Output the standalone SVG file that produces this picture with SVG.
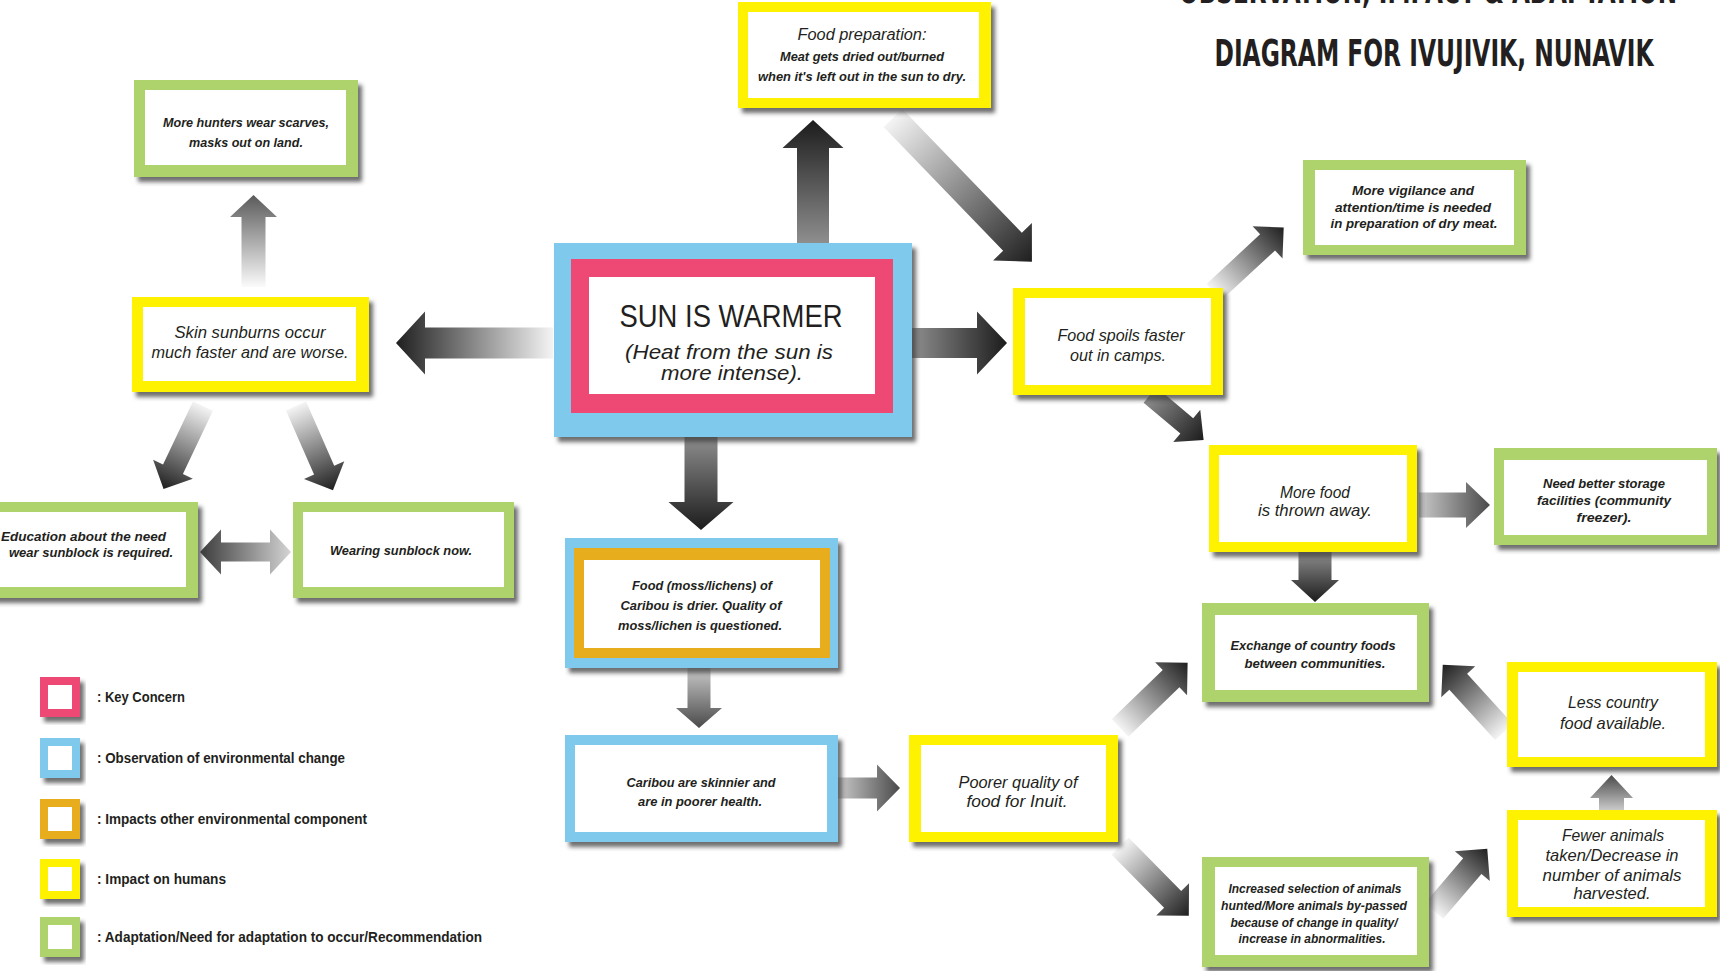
<svg xmlns="http://www.w3.org/2000/svg" width="1720" height="971" viewBox="0 0 1720 971">
  <defs>
    <style>
      .t { font-family: "Liberation Sans Narrow", "Liberation Sans", Arial, sans-serif; fill: #231f20; text-anchor: middle; font-style: italic; }
      .s { font-size: 13px; font-weight: bold; }
      .m { font-size: 17px; }
      .xs { font-size: 12px; font-weight: bold; }
      .lg { font-family: "Liberation Sans Narrow", "Liberation Sans", Arial, sans-serif; font-size: 14px; font-weight: bold; fill: #231f20; }
      .ttl { font-family: "Liberation Sans Narrow", "DejaVu Sans Condensed", "Liberation Sans", sans-serif; font-size: 38px; font-weight: bold; fill: #231f20; }
      .yel { fill: #fff200; }
      .grn { fill: #aed36c; }
      .blu { fill: #7fcaec; }
      .pnk { fill: #ee4875; }
      .org { fill: #e8ad1c; }
      .wht { fill: #ffffff; }
      .box { filter: url(#shadow); }
    </style>
    <filter id="shadow" x="-10%" y="-10%" width="125%" height="130%">
      <feDropShadow dx="4" dy="5" stdDeviation="2.2" flood-color="#3c3c3c" flood-opacity="0.75"/>
    </filter>
    <linearGradient id="gFade" x1="0" y1="0" x2="1" y2="0">
      <stop offset="0" stop-color="#f4f4f4"/>
      <stop offset="1" stop-color="#1f1f1f"/>
    </linearGradient>
    <linearGradient id="gStrong" x1="0" y1="0" x2="1" y2="0">
      <stop offset="0" stop-color="#8e8e8e"/>
      <stop offset="1" stop-color="#1c1c1c"/>
    </linearGradient>
    <linearGradient id="gMid" x1="0" y1="0" x2="1" y2="0">
      <stop offset="0" stop-color="#c9c9c9"/>
      <stop offset="1" stop-color="#4a4a4a"/>
    </linearGradient>
    <linearGradient id="gLight" x1="0" y1="0" x2="1" y2="0">
      <stop offset="0" stop-color="#fbfbfb"/>
      <stop offset="1" stop-color="#5a5a5a"/>
    </linearGradient>
    <linearGradient id="gDouble" x1="0" y1="0" x2="1" y2="0">
      <stop offset="0" stop-color="#3c3c3c"/>
      <stop offset="1" stop-color="#d4d4d4"/>
    </linearGradient>
  </defs>

  <rect width="1720" height="971" fill="#ffffff"/>

  <!-- title (first line runs off the top edge) -->
  <g id="title">
    <text class="ttl" x="1428" y="3" text-anchor="middle" textLength="498" lengthAdjust="spacingAndGlyphs">OBSERVATION, IMPACT &amp; ADAPTATION</text>
    <text class="ttl" x="1434" y="66" text-anchor="middle" textLength="439" lengthAdjust="spacingAndGlyphs">DIAGRAM FOR IVUJIVIK, NUNAVIK</text>
  </g>

  <!-- connectors: block arrows drawn along +x, then placed -->
  <g id="connectors">
    <path fill="url(#gFade)" transform="translate(553,343) rotate(180)" d="M0,-15.5H128V-31.5L157,0L128,31.5V15.5H0Z"/>
    <path fill="url(#gStrong)" transform="translate(813,243) rotate(-90)" d="M0,-16H95V-30.5L123,0L95,30.5V16H0Z"/>
    <path fill="url(#gFade)" transform="translate(893,118) rotate(46)" d="M0,-13H172V-27L200,0L172,27V13H0Z"/>
    <path fill="url(#gStrong)" transform="translate(912,343)" d="M0,-15H65V-31.5L95,0L65,31.5V15H0Z"/>
    <path fill="url(#gStrong)" transform="translate(701,437) rotate(90)" d="M0,-16.5H65V-32.5L93,0L65,32.5V16.5H0Z"/>
    <path fill="url(#gMid)" transform="translate(699,668) rotate(90)" d="M0,-11.5H40V-23L60,0L40,23V11.5H0Z"/>
    <path fill="url(#gMid)" transform="translate(838,788)" d="M0,-10.5H39V-23.5L62,0L39,23.5V10.5H0Z"/>
    <path fill="url(#gLight)" transform="translate(253.5,287) rotate(-90)" d="M0,-12H70V-23.5L92,0L70,23.5V12H0Z"/>
    <path fill="url(#gFade)" transform="translate(203,406) rotate(115.4)" d="M0,-11H70V-22L92,0L70,22V11H0Z"/>
    <path fill="url(#gFade)" transform="translate(296,406) rotate(66.3)" d="M0,-11H70V-22L92,0L70,22V11H0Z"/>
    <path fill="url(#gDouble)" d="M200,552L221,529.5V542.5H270V529.5L291,552L270,574.5V561.5H221V574.5Z"/>
    <path fill="url(#gFade)" transform="translate(1214,292) rotate(-42.8)" d="M0,-11H73V-22L95,0L73,22V11H0Z"/>
    <path fill="url(#gStrong)" transform="translate(1150,395) rotate(40)" d="M0,-10H48V-21L70,0L48,21V10H0Z"/>
    <path fill="url(#gMid)" transform="translate(1419,505)" d="M0,-12.5H47V-23L71,0L47,23V12.5H0Z"/>
    <path fill="url(#gStrong)" transform="translate(1315,552) rotate(90)" d="M0,-16.5H28V-24L50,0L28,24V16.5H0Z"/>
    <path fill="url(#gFade)" transform="translate(1120,728) rotate(-44)" d="M0,-12H71V-23L94,0L71,23V12H0Z"/>
    <path fill="url(#gFade)" transform="translate(1120,846) rotate(45.4)" d="M0,-12H75V-23L98,0L75,23V12H0Z"/>
    <path fill="url(#gFade)" transform="translate(1434,911) rotate(-49.5)" d="M0,-12H59V-23L82,0L59,23V12H0Z"/>
    <path fill="url(#gMid)" transform="translate(1611.5,810) rotate(-90)" d="M0,-12.5H12V-21.5L35,0L12,21.5V12.5H0Z"/>
    <path fill="url(#gFade)" transform="translate(1504,732) rotate(-132.3)" d="M0,-12H68V-23L91,0L68,23V12H0Z"/>
  </g>

  <!-- key concern -->
  <g id="sun-warmer">
    <rect class="blu box" x="554" y="243" width="358" height="194"/>
    <rect class="pnk" x="571" y="259" width="322" height="154"/>
    <rect class="wht" x="589" y="277" width="286" height="117"/>
    <text x="731" y="327" textLength="223" lengthAdjust="spacingAndGlyphs" style="font-family:'Liberation Sans Narrow','Liberation Sans',Arial,sans-serif;font-size:31px;fill:#231f20;text-anchor:middle">SUN IS WARMER</text>
    <text class="t" x="729" y="359" textLength="208" lengthAdjust="spacingAndGlyphs" style="font-size:21px">(Heat from the sun is</text>
    <text class="t" x="732" y="380" textLength="142" lengthAdjust="spacingAndGlyphs" style="font-size:21px">more intense).</text>
  </g>

  <g id="more-hunters">
    <rect class="grn box" x="134" y="80" width="224" height="97"/>
    <rect class="wht" x="145" y="90" width="201" height="75"/>
    <text class="t s" x="246" y="126.5" textLength="166" lengthAdjust="spacingAndGlyphs">More hunters wear scarves,</text>
    <text class="t s" x="246" y="146.5" textLength="114" lengthAdjust="spacingAndGlyphs">masks out on land.</text>
  </g>

  <g id="skin-sunburns">
    <rect class="yel box" x="132" y="297" width="237" height="95"/>
    <rect class="wht" x="143" y="307" width="213" height="74"/>
    <text class="t m" x="250" y="338" textLength="151" lengthAdjust="spacingAndGlyphs">Skin sunburns occur</text>
    <text class="t m" x="250" y="358" textLength="197" lengthAdjust="spacingAndGlyphs">much faster and are worse.</text>
  </g>

  <g id="food-preparation">
    <rect class="yel box" x="738" y="2" width="253" height="106"/>
    <rect class="wht" x="748" y="12" width="231" height="86"/>
    <text class="t" x="862" y="40" textLength="129" lengthAdjust="spacingAndGlyphs" style="font-size:16px">Food preparation:</text>
    <text class="t s" x="862" y="60.5" textLength="164" lengthAdjust="spacingAndGlyphs">Meat gets dried out/burned</text>
    <text class="t s" x="862" y="80.5" textLength="208" lengthAdjust="spacingAndGlyphs">when it's left out in the sun to dry.</text>
  </g>

  <g id="food-spoils">
    <rect class="yel box" x="1013" y="288" width="210" height="107"/>
    <rect class="wht" x="1025" y="298" width="186" height="87"/>
    <text class="t m" x="1121" y="341" textLength="127" lengthAdjust="spacingAndGlyphs">Food spoils faster</text>
    <text class="t m" x="1118" y="361" textLength="96" lengthAdjust="spacingAndGlyphs">out in camps.</text>
  </g>

  <g id="more-vigilance">
    <rect class="grn box" x="1303" y="160" width="223" height="95"/>
    <rect class="wht" x="1315" y="170" width="199" height="75"/>
    <text class="t s" x="1413" y="195" textLength="122" lengthAdjust="spacingAndGlyphs">More vigilance and</text>
    <text class="t s" x="1413" y="212" textLength="156" lengthAdjust="spacingAndGlyphs">attention/time is needed</text>
    <text class="t s" x="1414" y="228" textLength="167" lengthAdjust="spacingAndGlyphs">in preparation of dry meat.</text>
  </g>

  <g id="more-food-thrown">
    <rect class="yel box" x="1209" y="445" width="208" height="107"/>
    <rect class="wht" x="1219" y="455" width="188" height="87"/>
    <text class="t m" x="1315" y="498" textLength="70" lengthAdjust="spacingAndGlyphs">More food</text>
    <text class="t m" x="1315" y="516" textLength="114" lengthAdjust="spacingAndGlyphs">is thrown away.</text>
  </g>

  <g id="better-storage">
    <rect class="grn box" x="1494" y="448" width="223" height="97"/>
    <rect class="wht" x="1504" y="460" width="203" height="75"/>
    <text class="t s" x="1604" y="488" textLength="122" lengthAdjust="spacingAndGlyphs">Need better storage</text>
    <text class="t s" x="1604" y="505" textLength="134" lengthAdjust="spacingAndGlyphs">facilities (community</text>
    <text class="t s" x="1604" y="522" textLength="55" lengthAdjust="spacingAndGlyphs">freezer).</text>
  </g>

  <g id="exchange-foods">
    <rect class="grn box" x="1202" y="603" width="227" height="99"/>
    <rect class="wht" x="1215" y="615" width="202" height="75"/>
    <text class="t s" x="1313" y="650" textLength="165" lengthAdjust="spacingAndGlyphs">Exchange of country foods</text>
    <text class="t s" x="1315" y="668" textLength="141" lengthAdjust="spacingAndGlyphs">between communities.</text>
  </g>

  <g id="less-country-food">
    <rect class="yel box" x="1507" y="662" width="210" height="105"/>
    <rect class="wht" x="1518" y="672" width="187" height="85"/>
    <text class="t m" x="1613" y="708" textLength="90" lengthAdjust="spacingAndGlyphs">Less country</text>
    <text class="t m" x="1613" y="729" textLength="106" lengthAdjust="spacingAndGlyphs">food available.</text>
  </g>

  <g id="fewer-animals">
    <rect class="yel box" x="1507" y="810" width="210" height="107"/>
    <rect class="wht" x="1518" y="820" width="187" height="87"/>
    <text class="t m" x="1613" y="841" textLength="102" lengthAdjust="spacingAndGlyphs">Fewer animals</text>
    <text class="t m" x="1612" y="861" textLength="133" lengthAdjust="spacingAndGlyphs">taken/Decrease in</text>
    <text class="t m" x="1612" y="881" textLength="139" lengthAdjust="spacingAndGlyphs">number of animals</text>
    <text class="t m" x="1612" y="899" textLength="77" lengthAdjust="spacingAndGlyphs">harvested.</text>
  </g>

  <g id="increased-selection">
    <rect class="grn box" x="1202" y="857" width="227" height="110"/>
    <rect class="wht" x="1215" y="867" width="202" height="88"/>
    <text class="t xs" x="1315" y="893" textLength="173" lengthAdjust="spacingAndGlyphs">Increased selection of animals</text>
    <text class="t xs" x="1314" y="910" textLength="186" lengthAdjust="spacingAndGlyphs">hunted/More animals by-passed</text>
    <text class="t xs" x="1314" y="927" textLength="167" lengthAdjust="spacingAndGlyphs">because of change in quality/</text>
    <text class="t xs" x="1312" y="943" textLength="147" lengthAdjust="spacingAndGlyphs">increase in abnormalities.</text>
  </g>

  <g id="poorer-quality">
    <rect class="yel box" x="909" y="735" width="209" height="107"/>
    <rect class="wht" x="921" y="745" width="185" height="87"/>
    <text class="t m" x="1018" y="788" textLength="119" lengthAdjust="spacingAndGlyphs">Poorer quality of</text>
    <text class="t m" x="1017" y="807" textLength="101" lengthAdjust="spacingAndGlyphs">food for Inuit.</text>
  </g>

  <g id="food-moss-lichens">
    <rect class="blu box" x="565" y="538" width="273" height="130"/>
    <rect class="org" x="574" y="548" width="256" height="110"/>
    <rect class="wht" x="584" y="560" width="236" height="88"/>
    <text class="t s" x="702" y="590" textLength="140" lengthAdjust="spacingAndGlyphs">Food (moss/lichens) of</text>
    <text class="t s" x="701" y="610" textLength="161" lengthAdjust="spacingAndGlyphs">Caribou is drier. Quality of</text>
    <text class="t s" x="700" y="630" textLength="164" lengthAdjust="spacingAndGlyphs">moss/lichen is questioned.</text>
  </g>

  <g id="caribou-skinnier">
    <rect class="blu box" x="565" y="735" width="273" height="107"/>
    <rect class="wht" x="575" y="745" width="252" height="87"/>
    <text class="t s" x="701" y="787" textLength="149" lengthAdjust="spacingAndGlyphs">Caribou are skinnier and</text>
    <text class="t s" x="700" y="806" textLength="124" lengthAdjust="spacingAndGlyphs">are in poorer health.</text>
  </g>

  <g id="education-sunblock">
    <rect class="grn box" x="-30" y="502" width="228" height="96"/>
    <rect class="wht" x="-19" y="512" width="205" height="75"/>
    <text class="t s" x="1" y="541" textLength="165" lengthAdjust="spacingAndGlyphs" style="text-anchor:start">Education about the need</text>
    <text class="t s" x="9" y="557" textLength="164" lengthAdjust="spacingAndGlyphs" style="text-anchor:start">wear sunblock is required.</text>
  </g>

  <g id="wearing-sunblock">
    <rect class="grn box" x="293" y="502" width="221" height="96"/>
    <rect class="wht" x="303" y="512" width="201" height="75"/>
    <text class="t s" x="401" y="555" textLength="142" lengthAdjust="spacingAndGlyphs">Wearing sunblock now.</text>
  </g>

  <!-- legend -->
  <g id="legend">
    <rect class="pnk box" x="40" y="677" width="40" height="40"/>
    <rect class="wht" x="48" y="685" width="24" height="24"/>
    <text class="lg" x="97" y="702" textLength="88" lengthAdjust="spacingAndGlyphs">: Key Concern</text>
    <rect class="blu box" x="40" y="738" width="40" height="40"/>
    <rect class="wht" x="48" y="746" width="24" height="24"/>
    <text class="lg" x="97" y="763" textLength="248" lengthAdjust="spacingAndGlyphs">: Observation of environmental change</text>
    <rect class="org box" x="40" y="799" width="40" height="40"/>
    <rect class="wht" x="48" y="807" width="24" height="24"/>
    <text class="lg" x="97" y="824" textLength="270" lengthAdjust="spacingAndGlyphs">: Impacts other environmental component</text>
    <rect class="yel box" x="40" y="859" width="40" height="40"/>
    <rect class="wht" x="48" y="867" width="24" height="24"/>
    <text class="lg" x="97" y="884" textLength="129" lengthAdjust="spacingAndGlyphs">: Impact on humans</text>
    <rect class="grn box" x="40" y="917" width="40" height="40"/>
    <rect class="wht" x="48" y="925" width="24" height="24"/>
    <text class="lg" x="97" y="942" textLength="385" lengthAdjust="spacingAndGlyphs">: Adaptation/Need for adaptation to occur/Recommendation</text>
  </g>
</svg>
